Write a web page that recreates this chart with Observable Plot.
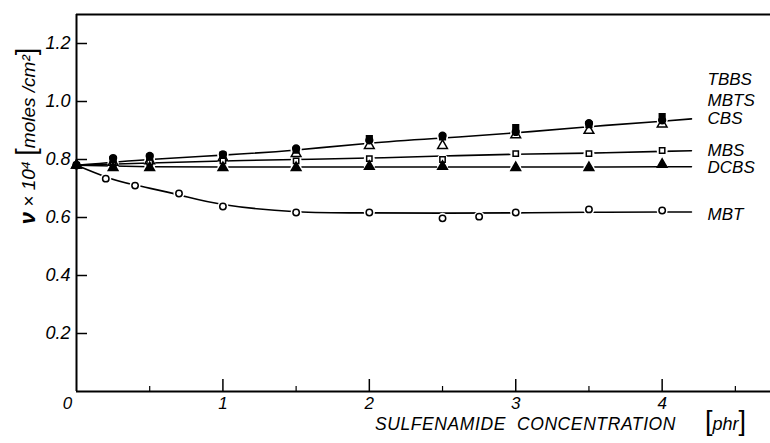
<!DOCTYPE html>
<html><head><meta charset="utf-8">
<script src="https://cdn.jsdelivr.net/npm/d3@7"></script>
<script src="https://cdn.jsdelivr.net/npm/@observablehq/plot@0.6"></script>
<style>
body{margin:0;background:#fff}
svg{font-family:"Liberation Sans",Arial,sans-serif}
</style>
</head><body><div id="chart"></div>
<script>
// measured points
const conc = [0, 0.25, 0.5, 1, 1.5, 2, 2.5, 3, 3.5, 4];
const tbbs = [0.78, 0.805, 0.812, 0.818, 0.838, 0.866, 0.882, 0.895, 0.925, 0.935];
const mbts = [0.78, 0.80, 0.808, 0.815, 0.832, 0.872, 0.878, 0.91, 0.92, 0.948];
const cbs  = [0.78, 0.79, 0.795, 0.805, 0.82, 0.848, 0.848, 0.885, 0.90, 0.922];
const mbs  = [0.78, 0.785, 0.79, 0.795, 0.795, 0.803, 0.80, 0.82, 0.82, 0.831];
const dcbs = [0.78, 0.772, 0.772, 0.772, 0.772, 0.776, 0.776, 0.772, 0.772, 0.783];
const mbtX = [0, 0.2, 0.4, 0.7, 1, 1.5, 2, 2.5, 2.75, 3, 3.5, 4];
const mbtY = [0.78, 0.734, 0.71, 0.683, 0.638, 0.617, 0.617, 0.597, 0.603, 0.617, 0.628, 0.624];

// drawn fit curves
const fitX    = [0, 0.5, 1, 1.5, 2, 2.5, 3, 3.5, 4, 4.2];
const fitTop  = [0.78, 0.80, 0.815, 0.833, 0.856, 0.874, 0.892, 0.913, 0.932, 0.94];
const fitMid  = [0.78, 0.788, 0.795, 0.80, 0.805, 0.812, 0.818, 0.822, 0.828, 0.83];
const fitLow  = [0.78, 0.775, 0.774, 0.774, 0.774, 0.774, 0.774, 0.774, 0.775, 0.775];
const fitMbtX = [0, 0.2, 0.4, 0.7, 1, 1.5, 2, 2.5, 3, 3.5, 4, 4.2];
const fitMbtY = [0.78, 0.74, 0.712, 0.678, 0.645, 0.62, 0.616, 0.615, 0.616, 0.618, 0.619, 0.619];

// labels
const seriesNames = ["TBBS", "MBTS", "CBS", "MBS", "DCBS", "MBT"];
const labelY = [1.076, 1.003, 0.941, 0.831, 0.772, 0.61];
const xMajor = [0, 1, 2, 3, 4];
const xMinor = [0.5, 1.5, 2.5, 3.5, 4.5];
const yTicks = [0.2, 0.4, 0.6, 0.8, 1.0, 1.2];
const xTitle = "SULFENAMIDE  CONCENTRATION";
const xUnit = "[phr]";
const yTitle = "ν × 10⁴ [moles /cm²]";

const pts = (xs, ys) => xs.map((x, i) => ({x, y: ys[i]}));
const tbbsP = pts(conc, tbbs), mbtsP = pts(conc, mbts), cbsP = pts(conc, cbs);
const mbsP = pts(conc, mbs), dcbsP = pts(conc, dcbs), mbtP = pts(mbtX, mbtY);
const allP = [...tbbsP, ...mbtsP, ...cbsP, ...mbsP, ...dcbsP, ...mbtP];
const labels = seriesNames.map((n, i) => ({n, y: labelY[i]}));

const W = 770, H = 443, mL = 76, mR = 0, mT = 14, mB = 52;
const frameW = W - mL - mR, frameH = H - mT - mB;
const italic = {fontStyle: "italic", fill: "black"};

const chart = Plot.plot({
  width: W, height: H,
  marginLeft: mL, marginRight: mR, marginTop: mT, marginBottom: mB,
  x: {domain: [0, 4.74], axis: null},
  y: {domain: [0, 1.3], axis: null},
  marks: [
    // frame
    Plot.ruleY([1.3], {stroke: "black", strokeWidth: 2}),
    Plot.ruleY([0], {stroke: "black", strokeWidth: 2}),
    Plot.ruleX([0], {stroke: "black", strokeWidth: 2}),
    // ticks (inward)
    Plot.tickX(xMajor.slice(1), {x: d => d, insetTop: frameH - 12, stroke: "black", strokeWidth: 1.5}),
    Plot.tickX(xMinor, {x: d => d, insetTop: frameH - 5, stroke: "black", strokeWidth: 1.2}),
    Plot.tickY(yTicks, {y: d => d, insetRight: frameW - 11, stroke: "black", strokeWidth: 1.5}),
    // tick labels
    Plot.text(yTicks, {y: d => d, frameAnchor: "left", dx: -6, textAnchor: "end", text: d => d3.format(".1f")(d), fontSize: 18, ...italic}),
    Plot.text(xMajor.slice(1), {x: d => d, frameAnchor: "bottom", dy: 17, text: d => String(d), fontSize: 17, ...italic}),
    Plot.text(xMajor.slice(0, 1), {x: d => d, frameAnchor: "bottom", dy: 17, dx: -9, text: d => String(d), fontSize: 17, ...italic}),
    // fit curves
    Plot.line(pts(fitX, fitTop), {x: "x", y: "y", curve: "natural", stroke: "black", strokeWidth: 1.6}),
    Plot.line(pts(fitX, fitMid), {x: "x", y: "y", curve: "natural", stroke: "black", strokeWidth: 1.6}),
    Plot.line(pts(fitX, fitLow), {x: "x", y: "y", curve: "natural", stroke: "black", strokeWidth: 1.6}),
    Plot.line(pts(fitMbtX, fitMbtY), {x: "x", y: "y", curve: "natural", stroke: "black", strokeWidth: 1.6}),
    // white halos (gaps in lines around markers)
    Plot.dot(allP.filter(d => d.x > 0), {x: "x", y: "y", r: 5.5, fill: "white", stroke: "none"}),
    // markers: open first, filled on top
    Plot.dot(cbsP, {x: "x", y: "y", symbol: "triangle", r: 3.6, fill: "white", stroke: "black", strokeWidth: 1.5}),
    Plot.dot(mbsP, {x: "x", y: "y", symbol: "square", r: 3, fill: "white", stroke: "black", strokeWidth: 1.5}),
    Plot.dot(mbtP, {x: "x", y: "y", symbol: "circle", r: 3.2, fill: "white", stroke: "black", strokeWidth: 1.5}),
    Plot.dot(tbbsP, {x: "x", y: "y", symbol: "circle", r: 3.4, fill: "black", stroke: "black"}),
    Plot.dot(mbtsP, {x: "x", y: "y", symbol: "square", r: 3.2, fill: "black", stroke: "black"}),
    Plot.dot(dcbsP, {x: "x", y: "y", symbol: "triangle", r: 3.6, fill: "black", stroke: "black"}),
    // series labels
    Plot.text(labels, {x: () => 4.31, y: "y", text: "n", textAnchor: "start", fontSize: 17, ...italic}),
    // axis titles
    Plot.text([xTitle], {frameAnchor: "bottom", textAnchor: "middle", dx: 102, dy: 38, text: d => d, fontSize: 17.5, ...italic}),
    Plot.text([xUnit], {frameAnchor: "bottom-right", textAnchor: "middle", dx: -45, dy: 38, text: d => d, fontSize: 18, ...italic}),
    Plot.text([yTitle], {frameAnchor: "left", textAnchor: "middle", dx: -48, dy: -67, rotate: -90, text: d => d, fontSize: 19, ...italic})
  ]
});
document.getElementById("chart").appendChild(chart);

// preserve double space in x title, and enlarge brackets like the original typesetting
d3.select(chart).selectAll("text").each(function() {
  const t = d3.select(this);
  const s = t.text();
  if (s === xTitle) t.style("white-space", "pre").attr("letter-spacing", 0.6);
  if (s === yTitle || s === xUnit) {
    t.text(null);
    for (const ch of s) {
      const sp = t.append("tspan").text(ch === " " ? "\u00a0" : ch);
      if (ch === "[" || ch === "]") sp.attr("font-size", 27).attr("font-style", "normal").attr("font-weight", 300);
      if (ch === "ν") sp.attr("font-size", 22).attr("font-weight", "bold");
    }
  }
});
</script>
</body></html>
